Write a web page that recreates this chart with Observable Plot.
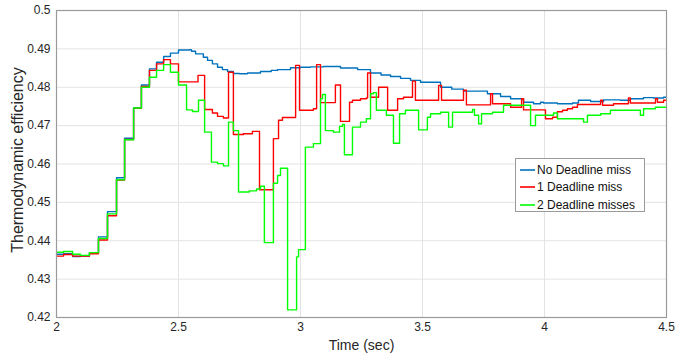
<!DOCTYPE html>
<html>
<head>
<meta charset="utf-8">
<script src="https://cdn.jsdelivr.net/npm/d3@7"></script>
<script src="https://cdn.jsdelivr.net/npm/@observablehq/plot@0.6"></script>
<style>
  body { margin: 0; background: #fff; }
  #wrap { position: relative; width: 675px; height: 356px; font-family: "Liberation Sans", Arial, sans-serif; }
  #legend { position: absolute; left: 515px; top: 158px; width: 130px; height: 54px; border: 1px solid #9a9a9a; background: #fff; box-sizing: border-box; padding-top: 2px; }
  .row { display: flex; align-items: center; height: 17px; margin-bottom: 0.5px; font-size: 12px; color: #111; white-space: nowrap; }
  .row svg { margin-left: 4px; margin-right: 2px; flex: none; }
</style>
</head>
<body>
<div id="wrap"></div>
<script>
const seriesNames = ["No Deadline miss", "1 Deadline miss", "2 Deadline misses"];
const seriesColors = ["#0072BD", "#FF0000", "#00FF00"];
const xTicks = [2, 2.5, 3, 3.5, 4, 4.5];
const yTicks = [0.42, 0.43, 0.44, 0.45, 0.46, 0.47, 0.48, 0.49, 0.5];

// No Deadline miss: step start times and values
const blueT = [2.000,2.029,2.066,2.098,2.135,2.172,2.209,2.246,2.279,2.316,2.348,2.381,2.410,2.439,2.467,2.500,2.545,2.553,2.570,2.602,2.619,2.639,2.660,2.680,2.701,2.725,2.750,2.783,2.836,2.880,2.906,2.959,3.000,3.041,3.094,3.164,3.234,3.287,3.330,3.369,3.410,3.451,3.492,3.574,3.620,3.668,3.766,3.820,3.861,3.914,3.955,3.984,3.996,4.053,4.115,4.139,4.189,4.242,4.311,4.352,4.406,4.447,4.488,4.500];
const blueV = [0.4365,0.4366,0.4359,0.4360,0.4369,0.4410,0.4476,0.4564,0.4667,0.4746,0.4806,0.4848,0.4865,0.4880,0.4889,0.4897,0.4898,0.4894,0.4887,0.4878,0.4870,0.4861,0.4852,0.4846,0.4841,0.4836,0.4835,0.4837,0.4841,0.4844,0.4846,0.4851,0.4852,0.4853,0.4854,0.4850,0.4846,0.4837,0.4832,0.4828,0.4823,0.4818,0.4813,0.4800,0.4795,0.4790,0.4783,0.4776,0.4770,0.4761,0.4757,0.4761,0.4759,0.4757,0.4759,0.4766,0.4763,0.4767,0.4766,0.4770,0.4773,0.4772,0.4774,0.4774];

// 1 Deadline miss
const redT = [2.000,2.029,2.066,2.098,2.135,2.172,2.209,2.246,2.279,2.316,2.348,2.381,2.410,2.439,2.467,2.500,2.580,2.607,2.639,2.660,2.684,2.705,2.725,2.766,2.803,2.832,2.889,2.910,2.926,2.980,2.996,3.053,3.066,3.082,3.143,3.164,3.201,3.213,3.246,3.270,3.275,3.287,3.320,3.357,3.398,3.422,3.459,3.471,3.566,3.578,3.668,3.680,3.779,3.787,3.861,3.906,3.914,4.004,4.033,4.053,4.074,4.094,4.115,4.135,4.230,4.238,4.283,4.344,4.352,4.455,4.463,4.488,4.500];
const redV = [0.4360,0.4364,0.4360,0.4360,0.4366,0.4402,0.4465,0.4558,0.4664,0.4745,0.4802,0.4844,0.4861,0.4872,0.4861,0.4814,0.4831,0.4742,0.4733,0.4724,0.4720,0.4839,0.4677,0.4679,0.4685,0.4533,0.4666,0.4714,0.4721,0.4857,0.4740,0.4744,0.4859,0.4760,0.4806,0.4711,0.4761,0.4766,0.4770,0.4772,0.4837,0.4774,0.4800,0.4740,0.4770,0.4774,0.4816,0.4766,0.4805,0.4766,0.4792,0.4754,0.4783,0.4757,0.4748,0.4770,0.4741,0.4718,0.4722,0.4736,0.4740,0.4744,0.4748,0.4755,0.4766,0.4753,0.4757,0.4772,0.4759,0.4770,0.4761,0.4766,0.4766];

// 2 Deadline misses
const greenT = [2.000,2.029,2.066,2.098,2.135,2.172,2.209,2.246,2.279,2.316,2.348,2.381,2.410,2.439,2.467,2.500,2.533,2.557,2.582,2.607,2.635,2.660,2.684,2.705,2.725,2.746,2.790,2.820,2.836,2.852,2.889,2.906,2.918,2.947,2.984,2.992,3.020,3.053,3.082,3.090,3.102,3.135,3.160,3.172,3.180,3.213,3.246,3.270,3.287,3.299,3.311,3.352,3.381,3.406,3.430,3.484,3.520,3.533,3.574,3.607,3.623,3.705,3.713,3.730,3.742,3.787,3.832,3.943,3.963,4.037,4.053,4.160,4.176,4.230,4.270,4.393,4.406,4.455,4.500];
const greenV = [0.4370,0.4372,0.4365,0.4362,0.4369,0.4406,0.4470,0.4559,0.4663,0.4746,0.4800,0.4826,0.4844,0.4859,0.4839,0.4806,0.4741,0.4737,0.4766,0.4683,0.4605,0.4601,0.4595,0.4709,0.4687,0.4527,0.4530,0.4535,0.4542,0.4395,0.4550,0.4570,0.4589,0.4220,0.4358,0.4377,0.4644,0.4653,0.4770,0.4781,0.4687,0.4683,0.4698,0.4703,0.4624,0.4696,0.4709,0.4718,0.4783,0.4786,0.4740,0.4727,0.4654,0.4731,0.4740,0.4689,0.4722,0.4731,0.4735,0.4696,0.4735,0.4742,0.4727,0.4705,0.4731,0.4735,0.4753,0.4700,0.4727,0.4733,0.4718,0.4709,0.4727,0.4731,0.4740,0.4727,0.4744,0.4748,0.4748];

const seriesT = [blueT, redT, greenT];
const seriesV = [blueV, redV, greenV];
const rows = seriesT.map((ts, i) => ts.map((t, j) => ({t, v: seriesV[i][j], s: seriesNames[i]})));

const chart = Plot.plot({
  width: 675,
  height: 356,
  marginLeft: 56,
  marginRight: 9,
  marginTop: 10,
  marginBottom: 39,
  style: {fontFamily: "'Liberation Sans', Arial, sans-serif", fontSize: "12px", color: "#262626", background: "#fff", overflow: "visible"},
  x: {domain: [2, 4.5]},
  y: {domain: [0.42, 0.5]},
  marks: [
    Plot.gridX(xTicks, {stroke: "#e3e3e3", strokeOpacity: 1}),
    Plot.gridY(yTicks, {stroke: "#e3e3e3", strokeOpacity: 1}),
    Plot.axisX(xTicks, {tickSize: 0, tickPadding: 5, label: null, tickFormat: d => String(d)}),
    Plot.axisY(yTicks, {tickSize: 0, tickPadding: 6, label: null, tickFormat: d => String(+d.toFixed(2))}),
    ...rows.map((r, i) => Plot.line(r, {x: "t", y: "v", stroke: seriesColors[i], strokeWidth: 1.4, curve: "step-after"})),
    Plot.frame({stroke: "#9a9a9a", strokeWidth: 1.2}),
    Plot.text(["Time (sec)"], {text: d => d, frameAnchor: "bottom", lineAnchor: "middle", textAnchor: "middle", dy: 28, fontSize: 14}),
    Plot.text(["Thermodynamic efficiency"], {text: d => d, frameAnchor: "left", lineAnchor: "middle", textAnchor: "middle", rotate: -90, dx: -39, dy: -4, fontSize: 16})
  ]
});

const wrap = document.getElementById("wrap");
wrap.appendChild(chart);
const legend = document.createElement("div");
legend.id = "legend";
const svgNS = "http://www.w3.org/2000/svg";
seriesNames.forEach((name, i) => {
  const row = document.createElement("div");
  row.className = "row";
  const sw = document.createElementNS(svgNS, "svg");
  sw.setAttribute("width", "15");
  sw.setAttribute("height", "6");
  const ln = document.createElementNS(svgNS, "line");
  ln.setAttribute("x1", "0"); ln.setAttribute("x2", "15");
  ln.setAttribute("y1", "3"); ln.setAttribute("y2", "3");
  ln.setAttribute("stroke", seriesColors[i]);
  ln.setAttribute("stroke-width", "1.6");
  sw.appendChild(ln);
  const label = document.createElement("span");
  label.textContent = name;
  row.appendChild(sw);
  row.appendChild(label);
  legend.appendChild(row);
});
wrap.appendChild(legend);
</script>
</body>
</html>
